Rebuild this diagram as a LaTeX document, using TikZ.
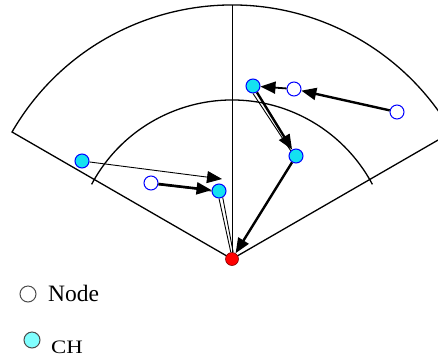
\documentclass[tikz,border=0pt]{standalone}
\usepackage{fontspec}
\setmainfont{Liberation Serif}
\usetikzlibrary{arrows.meta,calc}
\definecolor{chcyan}{RGB}{20,225,240}
\definecolor{legcyan}{RGB}{128,255,255}
\begin{document}
\begin{tikzpicture}[x=1pt,y=-1pt,
  plainnode/.style={circle,draw=blue,fill=white,line width=1pt,minimum size=14pt,inner sep=0pt},
  chnode/.style={plainnode,fill=chcyan},
  sinknode/.style={circle,fill=red,draw=red!50!black,line width=0.6pt,minimum size=13pt,inner sep=0pt},
  thinln/.style={line width=0.9pt},
  thickln/.style={line width=2.4pt},
  tip/.style={-{Triangle[length=15pt,width=12pt]}},
  legnode/.style={circle,draw=black!70,line width=1pt,minimum size=16pt,inner sep=0pt},
  sector/.style={line width=1.3pt}]
\useasboundingbox (0,0) rectangle (438,362);
\clip (0,0) rectangle (438,362);
\coordinate (S) at (232,259);
% sector outline
\draw[sector] (S) -- ($(S)+(150:254pt)$) arc[start angle=150,end angle=30,radius=254pt] -- (S);
\draw[sector] ($(S)+(152:159pt)$) arc[start angle=152,end angle=28,radius=159pt];
\coordinate (top) at (232,5);
\draw[line width=0.9pt] (S) -- (top);
% nodes
\node[chnode] (ch1) at (82,161) {};
\node[plainnode] (n1) at (151,183) {};
\node[chnode] (ch2) at (219,191) {};
\node[chnode] (ch3) at (253,86) {};
\node[plainnode] (n2) at (294,89) {};
\node[plainnode] (n3) at (397,112) {};
\node[chnode] (ch4) at (296,156) {};
\node[sinknode] (sink) at (232,259) {};
\coordinate (t1) at (222,179);
% connectors
\draw[thinln,tip] (ch1) -- (t1);
\draw[thinln] (n1.-15) -- (ch2.west);
\draw[thickln,tip] (n1) -- (ch2);
\draw[thinln] (ch2.south) -- (sink.100);
\draw[thinln] (ch2.-60) -- (sink.80);
\draw[thickln,tip] (n3) -- (n2);
\draw[line width=1.8pt,tip] (n2) -- (ch3);
\draw[thinln] (ch3.south) -- (ch4.north west);
\draw[thickln,tip] (ch3) -- (ch4);
\draw[thickln,tip] (ch4) -- (sink);
% legend
\node[legnode,fill=white] (lnode) at (28,294) {};
\node[anchor=base west,inner sep=0pt,font=\fontsize{23.5}{24}\selectfont] (lnodetxt) at (48,301) {Node};
\node[legnode,fill=legcyan] (lch) at (32,340) {};
\node[anchor=base west,inner sep=0pt,font=\fontsize{19}{19}\selectfont,xscale=1.2] (lchtxt) at (51,353) {CH};
\end{tikzpicture}
\end{document}
